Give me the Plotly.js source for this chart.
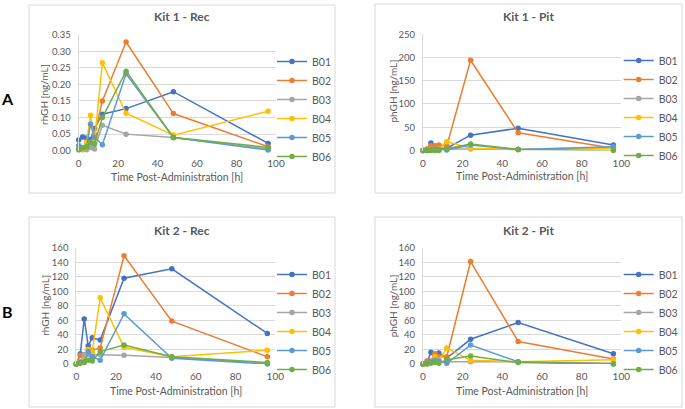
<!DOCTYPE html>
<html>
<head>
<meta charset="utf-8">
<script src="https://cdn.plot.ly/plotly-3.0.1.min.js"></script>
<style>html,body{margin:0;padding:0;background:#fff;}#chart{width:685px;height:409px;}</style>
</head>
<body>
<div id="chart"></div>
<script>
// ---- data ----
const timeH = [0, 2, 4, 6, 8, 12, 24, 48, 96];
const seriesNames = ["B01", "B02", "B03", "B04", "B05", "B06"];
const seriesColors = ["#4472C4", "#ED7D31", "#A5A5A5", "#FFC000", "#5B9BD5", "#70AD47"];

// Kit 1 - Rec (rhGH ng/mL)
const kit1Rec_B01 = [0.032, 0.041, 0.038, 0.034, 0.067, 0.110, 0.127, 0.178, 0.022];
const kit1Rec_B02 = [0.005, 0.003, 0.012, 0.025, 0.050, 0.150, 0.328, 0.112, 0.012];
const kit1Rec_B03 = [0.003, 0.005, 0.003, 0.010, 0.005, 0.077, 0.050, 0.040, 0.005];
const kit1Rec_B04 = [0.005, 0.005, 0.025, 0.107, 0.030, 0.265, 0.113, 0.047, 0.119];
const kit1Rec_B05 = [0.016, 0.010, 0.012, 0.080, 0.040, 0.018, 0.232, 0.040, 0.002];
const kit1Rec_B06 = [0.003, 0.008, 0.012, 0.025, 0.020, 0.100, 0.240, 0.040, 0.010];

// Kit 1 - Pit (phGH ng/mL)
const kit1Pit_B01 = [0, 2, 16, 5, 5, 5, 33, 48, 12];
const kit1Pit_B02 = [0, 3, 10, 10, 12, 10, 194, 38, 5];
const kit1Pit_B03 = [0, 1, 1, 2, 2, 3, 3, 2, 7];
const kit1Pit_B04 = [0, 0, 2, 3, 3, 19, 5, 2, 5];
const kit1Pit_B05 = [0, 0, 1, 3, 2, 1, 12, 2, 8];
const kit1Pit_B06 = [0, 0, 0, 0, 0, 4, 14, 2, 0];

// Kit 2 - Rec (rhGH ng/mL)
const kit2Rec_B01 = [0, 14, 62, 25, 36, 33, 118, 131, 42];
const kit2Rec_B02 = [0, 12, 8, 20, 19, 22, 149, 59, 10];
const kit2Rec_B03 = [0, 3, 13, 13, 13, 13, 12, 9, 1];
const kit2Rec_B04 = [0, 2, 5, 20, 17, 91, 23, 10, 19];
const kit2Rec_B05 = [0, 2, 3, 17, 10, 5, 69, 8, 0];
const kit2Rec_B06 = [0, 1, 2, 5, 4, 17, 26, 10, 2];

// Kit 2 - Pit (phGH ng/mL)
const kit2Pit_B01 = [0, 2, 16, 6, 15, 8, 34, 57, 14];
const kit2Pit_B02 = [0, 4, 4, 14, 10, 10, 141, 31, 7];
const kit2Pit_B03 = [0, 1, 2, 5, 3, 3, 3, 3, 1];
const kit2Pit_B04 = [0, 0, 2, 10, 5, 22, 5, 3, 6];
const kit2Pit_B05 = [0, 1, 3, 5, 4, 1, 26, 3, 0];
const kit2Pit_B06 = [0, 0, 1, 2, 1, 6, 11, 2, 0];

const panelTitles = ["Kit 1 - Rec", "Kit 1 - Pit", "Kit 2 - Rec", "Kit 2 - Pit"];
const yTitles = ["rhGH [ng/mL]", "phGH [ng/mL]", "rhGH [ng/mL]", "phGH [ng/mL]"];
const xTitle = "Time Post-Administration [h]";
const panelLetters = ["A", "B"];

const panelData = [
  [kit1Rec_B01, kit1Rec_B02, kit1Rec_B03, kit1Rec_B04, kit1Rec_B05, kit1Rec_B06],
  [kit1Pit_B01, kit1Pit_B02, kit1Pit_B03, kit1Pit_B04, kit1Pit_B05, kit1Pit_B06],
  [kit2Rec_B01, kit2Rec_B02, kit2Rec_B03, kit2Rec_B04, kit2Rec_B05, kit2Rec_B06],
  [kit2Pit_B01, kit2Pit_B02, kit2Pit_B03, kit2Pit_B04, kit2Pit_B05, kit2Pit_B06]
];

// ---- layout helpers ----
const W = 685, H = 409;
const px = v => v / W;
const py = v => 1 - v / H;
const FONT = "Lato, sans-serif";
const GREY = "#595959";

const panels = [
  {xd: [78.7, 276], yd: [150.7, 34.7], yr: [0, 0.35], dt: 0.05, fmt: ".2f", box: [29, 5, 335, 193],
   title: [181.7, 16.7], xt: [176.8, 176.7], yt: [44, 95], leg: [312, 47]},
  {xd: [423, 621.3], yd: [150.5, 34.2], yr: [0, 250], dt: 50, fmt: "d", box: [375, 4, 682, 193],
   title: [528.7, 16.5], xt: [522.3, 175.7], yt: [392.5, 91], leg: [658.7, 46]},
  {xd: [76.3, 275.3], yd: [364, 247.7], yr: [0, 160], dt: 20, fmt: "d", box: [29, 217, 335, 407],
   title: [181.7, 230.7], xt: [175.8, 391], yt: [45, 305.8], leg: [312, 260]},
  {xd: [423, 621.3], yd: [364, 247.7], yr: [0, 160], dt: 20, fmt: "d", box: [375, 217, 682, 407],
   title: [528.7, 230.7], xt: [522.3, 391], yt: [392.5, 305.8], leg: [658.7, 260]}
];

const traces = [];
const layout = {
  width: W, height: H,
  margin: {l: 0, r: 0, t: 0, b: 0},
  paper_bgcolor: "#fff", plot_bgcolor: "#fff",
  font: {family: FONT, color: GREY, size: 10},
  shapes: [], annotations: []
};

panels.forEach((p, i) => {
  const k = i === 0 ? "" : String(i + 1);
  const legKey = "legend" + k;
  panelData[i].forEach((ys, s) => {
    traces.push({
      x: timeH, y: ys, name: seriesNames[s],
      type: "scatter", mode: "lines+markers", cliponaxis: false,
      xaxis: "x" + k, yaxis: "y" + k, legend: legKey,
      line: {color: seriesColors[s], width: 1.5},
      marker: {color: seriesColors[s], size: 5.5}
    });
  });
  layout["xaxis" + k] = {
    domain: [px(p.xd[0]), px(p.xd[1])], anchor: "y" + k,
    range: [0, 100], tickvals: [0, 20, 40, 60, 80, 100],
    showgrid: false, zeroline: false, showline: false,
    ticks: "outside", ticklen: 3, tickcolor: "rgba(0,0,0,0)",
    tickfont: {size: 10, color: GREY, family: FONT}
  };
  layout["yaxis" + k] = {
    domain: [py(p.yd[0]), py(p.yd[1])], anchor: "x" + k,
    range: p.yr, dtick: p.dt, tick0: 0, tickformat: p.fmt,
    showgrid: true, gridcolor: "#d9d9d9", gridwidth: 1, zeroline: false,
    showline: true, linecolor: "#d9d9d9", linewidth: 1,
    ticks: "outside", ticklen: 5, tickcolor: "rgba(0,0,0,0)",
    tickfont: {size: 9.5, color: GREY, family: FONT}
  };
  layout[legKey] = {
    x: px(p.leg[0] - 40), y: py(p.leg[1]), xanchor: "left", yanchor: "top",
    font: {size: 10.5, color: GREY, family: FONT}, bgcolor: "rgba(0,0,0,0)",
    tracegroupgap: 0, itemclick: false
  };
  layout.shapes.push({
    type: "rect", xref: "paper", yref: "paper",
    x0: px(p.box[0]), x1: px(p.box[2]), y0: py(p.box[3]), y1: py(p.box[1]),
    line: {color: "#d9d9d9", width: 1}, fillcolor: "rgba(0,0,0,0)", layer: "below"
  });
  layout.annotations.push({
    text: panelTitles[i], xref: "paper", yref: "paper",
    x: px(p.title[0]), y: py(p.title[1]), xanchor: "center", yanchor: "middle",
    showarrow: false, font: {size: 12, color: GREY, family: FONT, weight: 700}
  });
  layout.annotations.push({
    text: xTitle, xref: "paper", yref: "paper",
    x: px(p.xt[0]), y: py(p.xt[1]), xanchor: "center", yanchor: "middle",
    showarrow: false, font: {size: 10.5, color: GREY, family: FONT}
  });
  layout.annotations.push({
    text: yTitles[i], xref: "paper", yref: "paper", textangle: -90,
    x: px(p.yt[0]), y: py(p.yt[1]), xanchor: "center", yanchor: "middle",
    showarrow: false, font: {size: 10, color: GREY, family: FONT}
  });
});

layout.annotations.push({
  text: panelLetters[0], xref: "paper", yref: "paper", x: px(7.5), y: py(98),
  xanchor: "center", yanchor: "middle", showarrow: false,
  font: {size: 16, color: "#000", family: FONT, weight: 700}
});
layout.annotations.push({
  text: panelLetters[1], xref: "paper", yref: "paper", x: px(7.5), y: py(311.7),
  xanchor: "center", yanchor: "middle", showarrow: false,
  font: {size: 16, color: "#000", family: FONT, weight: 700}
});

Plotly.newPlot("chart", traces, layout, {staticPlot: true, displayModeBar: false});
</script>
</body>
</html>
